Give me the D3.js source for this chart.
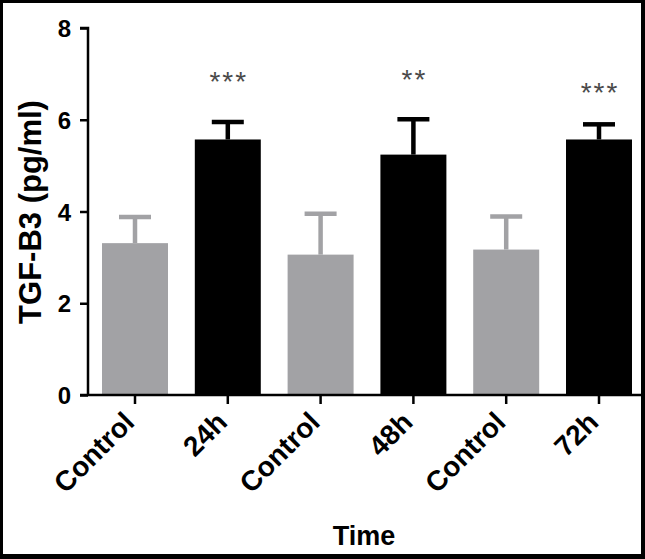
<!DOCTYPE html>
<html>
<head>
<meta charset="utf-8">
<script src="https://cdn.jsdelivr.net/npm/d3@7"></script>
<style>
  html, body { margin: 0; padding: 0; background: #fff; }
  svg { display: block; }
  text { font-family: "Liberation Sans", Arial, sans-serif; font-weight: bold; }
</style>
</head>
<body>
<svg id="chart" width="645" height="559"></svg>
<script>
// ---- data ----
const categories = ["Control", "24h", "Control", "48h", "Control", "72h"];
const groupKeys  = ["c1", "t24", "c2", "t48", "c3", "t72"];
const means      = [3.31, 5.57, 3.06, 5.24, 3.17, 5.57];
const sems       = [0.57, 0.38, 0.89, 0.77, 0.72, 0.33];
const isTreated  = [false, true, false, true, false, true];
const stars      = ["", "***", "", "**", "", "***"];
const starLevels = [null, 6.92, null, 6.96, null, 6.67];
const yTicks     = [0, 2, 4, 6, 8];
const yLabel     = "TGF-B3 (pg/ml)";
const xLabel     = "Time";

// ---- layout ----
const W = 645, H = 559;
const svg = d3.select("#chart");
const grey = "#a2a2a5";

const x = d3.scaleBand()
  .domain(groupKeys)
  .range([88.6, 645.4])
  .paddingInner(0.289)
  .paddingOuter(0.1445);

const y = d3.scaleLinear().domain([0, 8]).range([395, 28]);

const g = svg.append("g");

// bars
g.selectAll("rect.bar")
  .data(groupKeys)
  .join("rect")
  .attr("class", "bar")
  .attr("x", k => x(k))
  .attr("width", x.bandwidth())
  .attr("y", (k, i) => y(means[i]))
  .attr("height", (k, i) => y(0) - y(means[i]))
  .attr("fill", (k, i) => isTreated[i] ? "#000" : grey);

// error bars (upper only)
const capHalf = 16;
const eb = g.selectAll("g.err").data(groupKeys).join("g").attr("class", "err");
eb.append("line")
  .attr("x1", k => x(k) + x.bandwidth() / 2)
  .attr("x2", k => x(k) + x.bandwidth() / 2)
  .attr("y1", (k, i) => y(means[i]))
  .attr("y2", (k, i) => y(means[i] + sems[i]))
  .attr("stroke", (k, i) => isTreated[i] ? "#000" : grey)
  .attr("stroke-width", 4.5);
eb.append("line")
  .attr("x1", k => x(k) + x.bandwidth() / 2 - capHalf)
  .attr("x2", k => x(k) + x.bandwidth() / 2 + capHalf)
  .attr("y1", (k, i) => y(means[i] + sems[i]))
  .attr("y2", (k, i) => y(means[i] + sems[i]))
  .attr("stroke", (k, i) => isTreated[i] ? "#000" : grey)
  .attr("stroke-width", 4.5);

// significance stars
g.selectAll("text.star")
  .data(groupKeys.filter((k, i) => stars[i]))
  .join("text")
  .attr("class", "star")
  .attr("x", k => x(k) + x.bandwidth() / 2 + 1)
  .attr("y", k => y(starLevels[groupKeys.indexOf(k)]) + 13)
  .attr("text-anchor", "middle")
  .attr("font-size", 28)
  .attr("letter-spacing", 2)
  .attr("fill", "#4a4a4a")
  .style("font-weight", "normal")
  .text(k => stars[groupKeys.indexOf(k)]);

// y axis
const yAxis = d3.axisLeft(y).tickValues(yTicks).tickSize(8).tickPadding(9).tickFormat(d3.format("d"));
const yg = svg.append("g").attr("transform", "translate(88,0)").call(yAxis);
yg.select(".domain").attr("stroke-width", 2.5).attr("d", `M-8,${y(8)}H0V${y(0)}`);
yg.selectAll(".tick line").attr("stroke-width", 2.5);
yg.selectAll(".tick text").attr("font-size", 24).attr("fill", "#000").attr("dy", "0.36em");

// x axis
const xAxis = d3.axisBottom(x).tickSize(9).tickFormat((k, i) => categories[i]);
const xg = svg.append("g").attr("transform", `translate(0,${y(0)})`).call(xAxis);
xg.select(".domain").attr("stroke-width", 2.5).attr("d", `M80,0H645`);
xg.selectAll(".tick line").attr("stroke-width", 2.5);
xg.selectAll(".tick text")
  .attr("font-size", 28)
  .attr("fill", "#000")
  .attr("text-anchor", "end")
  .attr("y", 0)
  .attr("dy", 0)
  .attr("transform", "translate(1,29) rotate(-45)");

// axis titles
svg.append("text")
  .attr("transform", `translate(41,212) rotate(-90)`)
  .attr("text-anchor", "middle")
  .attr("font-size", 31)
  .attr("fill", "#000")
  .text(yLabel);

svg.append("text")
  .attr("x", 364)
  .attr("y", 545)
  .attr("text-anchor", "middle")
  .attr("font-size", 27)
  .attr("fill", "#000")
  .text(xLabel);

// frame
svg.append("rect").attr("x", 0).attr("y", 0).attr("width", 3).attr("height", H).attr("fill", "#000");
svg.append("rect").attr("x", 0).attr("y", 0).attr("width", W).attr("height", 3).attr("fill", "#000");
svg.append("rect").attr("x", 641).attr("y", 0).attr("width", 4).attr("height", H).attr("fill", "#000");
svg.append("rect").attr("x", 0).attr("y", 554).attr("width", W).attr("height", 5).attr("fill", "#000");
</script>
</body>
</html>
